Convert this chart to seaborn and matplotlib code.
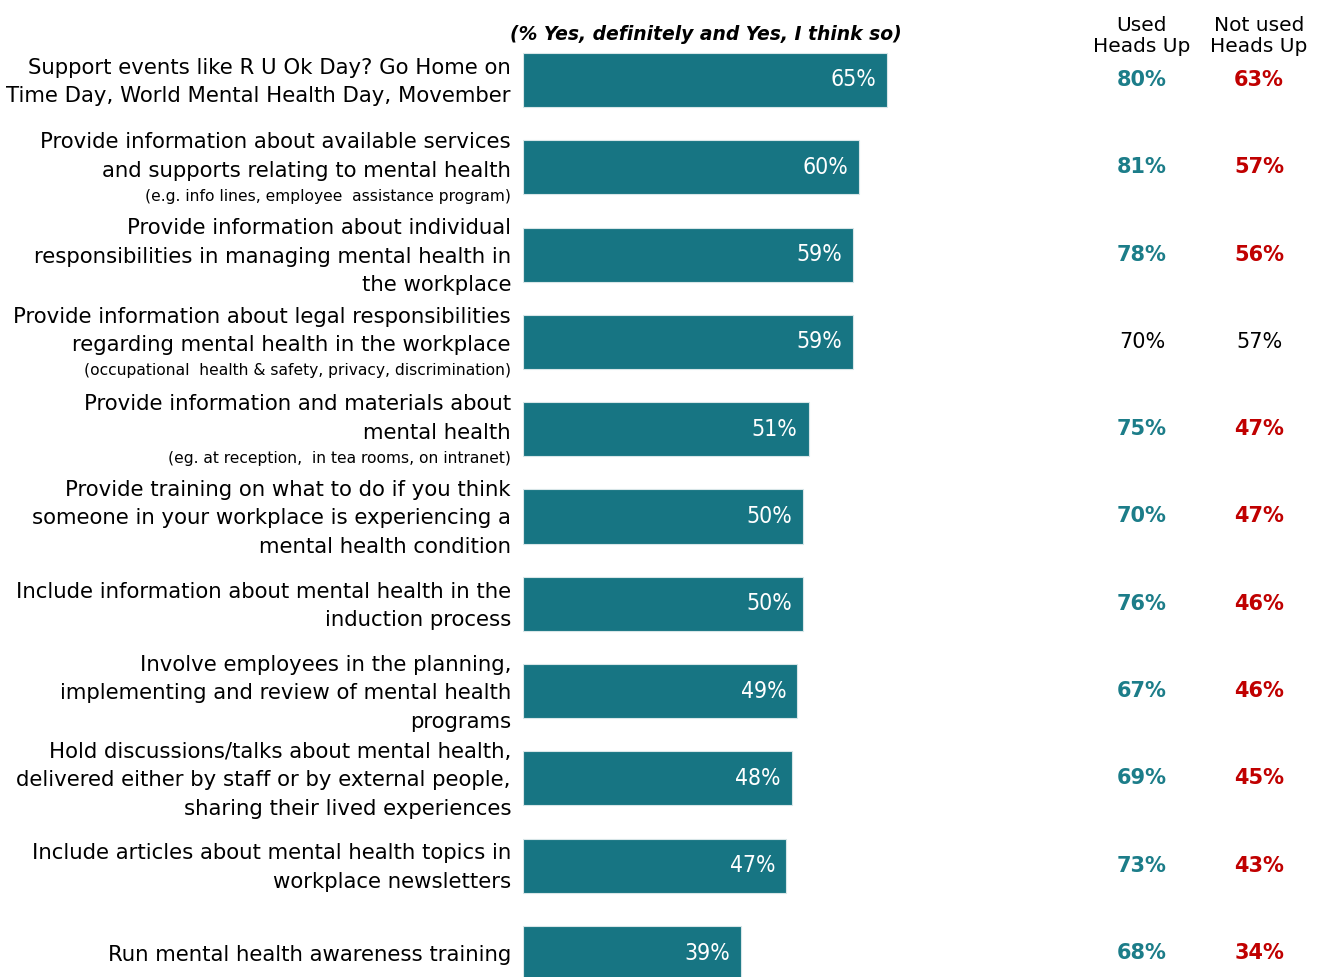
import matplotlib
matplotlib.use("Agg")
import matplotlib.pyplot as plt
import seaborn as sns
import pandas as pd

# Share of respondents answering "Yes, definitely" or "Yes, I think so"
categories = [
    "Support events",
    "Info on services",
    "Individual responsibilities",
    "Legal responsibilities",
    "Information and materials",
    "Training",
    "Induction process",
    "Involve employees",
    "Discussions/talks",
    "Newsletter articles",
    "Awareness training",
]
total = [65, 60, 59, 59, 51, 50, 50, 49, 48, 47, 39]
used_heads_up = [80, 81, 78, 70, 75, 70, 76, 67, 69, 73, 68]
not_used_heads_up = [63, 57, 56, 57, 47, 47, 46, 46, 45, 43, 34]
# rows where the difference between groups is significant (coloured, bold)
significant = [True, True, True, False, True, True, True, True, True, True, True]

# Label text per row: main lines plus an optional small note
label_main = [
    ["Support events like R U Ok Day? Go Home on", "Time Day, World Mental Health Day, Movember"],
    ["Provide information about available services", "and supports relating to mental health"],
    ["Provide information about individual", "responsibilities in managing mental health in", "the workplace"],
    ["Provide information about legal responsibilities", "regarding mental health in the workplace"],
    ["Provide information and materials about", "mental health"],
    ["Provide training on what to do if you think", "someone in your workplace is experiencing a", "mental health condition"],
    ["Include information about mental health in the", "induction process"],
    ["Involve employees in the planning,", "implementing and review of mental health", "programs"],
    ["Hold discussions/talks about mental health,", "delivered either by staff or by external people,", "sharing their lived experiences"],
    ["Include articles about mental health topics in", "workplace newsletters"],
    ["Run mental health awareness training"],
]
label_note = [
    None,
    "(e.g. info lines, employee  assistance program)",
    None,
    "(occupational  health & safety, privacy, discrimination)",
    "(eg. at reception,  in tea rooms, on intranet)",
    None, None, None, None, None, None,
]

col_headers = ["Used\nHeads Up", "Not used\nHeads Up"]
subtitle = "(% Yes, definitely and Yes, I think so)"

BAR = "#177583"
TEAL = "#1c7d89"
RED = "#c00000"

df = pd.DataFrame({"category": categories, "total": total})

W, H, DPI = 13.17, 9.77, 100
sns.set_style("white")
plt.rcParams["font.family"] = ["DejaVu Sans"]
plt.rcParams["text.color"] = "black"
fig = plt.figure(figsize=(W, H), dpi=DPI)

left_px = 523
ax = fig.add_axes([left_px / 1317, 0, 1 - left_px / 1317, 1])
sns.barplot(data=df, x="total", y="category", color=BAR, width=0.62,
            saturation=1, ax=ax, orient="h", edgecolor="#d8e6e8", linewidth=0.8)

px_per_unit = 5.6
ax.set_xlim(0, (1317 - left_px) / px_per_unit)
row_px = 87.3
ax.set_ylim(10 + 24 / row_px, -80 / row_px)
ax.axis("off")

for i, v in enumerate(total):
    ax.annotate(f"{v}%", xy=(v, i), xytext=(-8, 0), textcoords="offset points",
                ha="right", va="center", color="white", fontsize=16.5,
                fontstretch="condensed")

# Columns for group comparison
x_used = (1142 - left_px) / px_per_unit
x_not = (1259 - left_px) / px_per_unit
for i in range(len(categories)):
    sig = significant[i]
    ax.text(x_used, i, f"{used_heads_up[i]}%", ha="center", va="center",
            fontsize=15, fontweight="bold" if sig else "normal",
            color=TEAL if sig else "black")
    ax.text(x_not, i, f"{not_used_heads_up[i]}%", ha="center", va="center",
            fontsize=15, fontweight="bold" if sig else "normal",
            color=RED if sig else "black")

for x, h in zip([x_used, x_not], col_headers):
    ax.annotate(h, xy=(x, 0), xycoords=("data", "figure fraction"),
                xytext=(0, (977 - 36) * 0.72), textcoords="offset points",
                ha="center", va="center", fontsize=14.5, linespacing=1.1,
                color="black")

fig.text(706 / 1317, 1 - 35 / 977, subtitle, ha="center", va="center",
         fontsize=13.5, fontstyle="italic", fontweight="bold", color="black")

# Row labels, right-aligned next to the bars
main_gap = 28.5
note_gap = 25.5
label_x = -12 / px_per_unit
for i in range(len(categories)):
    lines = [(t, 15.3) for t in label_main[i]]
    gaps = [main_gap] * (len(lines) - 1)
    if label_note[i]:
        lines.append((label_note[i], 11.2))
        gaps.append(note_gap)
    pos = [0.0]
    for g in gaps:
        pos.append(pos[-1] + g)
    mid = (pos[0] + pos[-1]) / 2
    for (t, fs), p in zip(lines, pos):
        ax.annotate(t, xy=(label_x, i), xytext=(0, -(p - mid + 2) * 0.72),
                    textcoords="offset points", ha="right", va="center",
                    fontsize=fs, color="black", annotation_clip=False)

fig.savefig("out.png", dpi=DPI)
